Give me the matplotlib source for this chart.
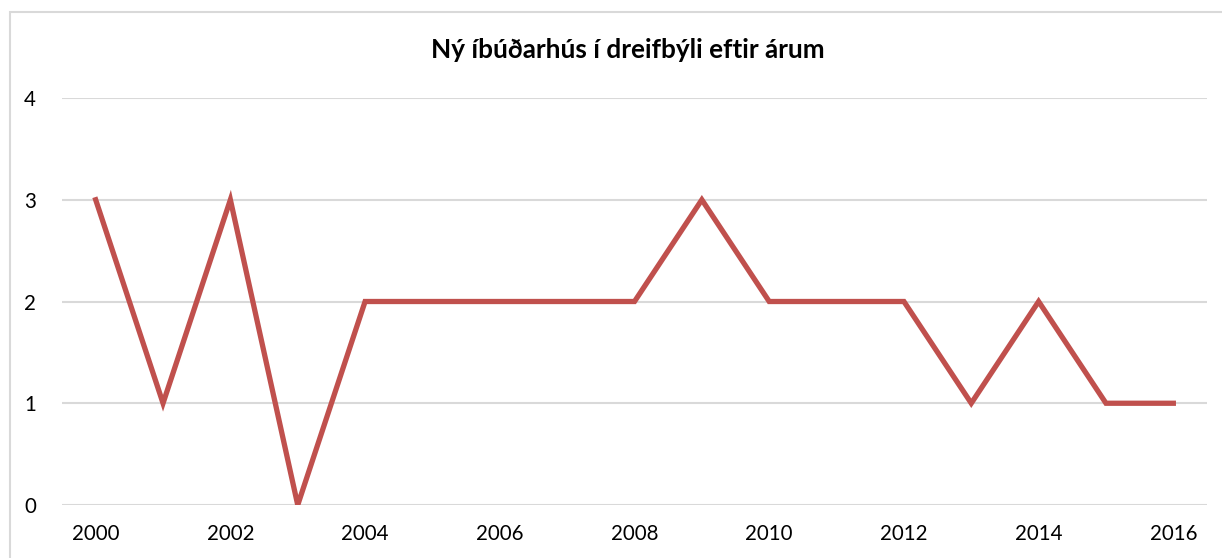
import matplotlib
matplotlib.use("Agg")
import matplotlib.pyplot as plt
from matplotlib.patches import Rectangle

years = list(range(2000, 2017))
values = [3, 1, 3, 0, 2, 2, 2, 2, 2, 3, 2, 2, 2, 1, 2, 1, 1]
xticks = list(range(2000, 2017, 2))
yticks = [0, 1, 2, 3, 4]
title = "Ný íbúðarhús í dreifbýli eftir árum"

plt.rcParams['font.family'] = ['Lato', 'DejaVu Sans']

W, H = 1222, 558
fig = plt.figure(figsize=(W / 100, H / 100), dpi=100)
fig.patch.set_facecolor('white')

# chart frame
fig.patches.append(Rectangle((10 / W, -0.1), 1.2, (H - 12) / H + 0.1,
                             transform=fig.transFigure, fill=False,
                             edgecolor='#d9d9d9', linewidth=1.5))

ax = fig.add_axes([62 / W, 1 - 505 / H, (1207 - 62) / W, (505 - 98) / H])
ax.plot(years, values, color='#c0504d', linewidth=3.8, solid_joinstyle='miter')
ax.set_xlim(1999.5, 2016.5)
ax.set_ylim(0, 4)
ax.set_yticks(yticks)
ax.set_xticks(xticks)
ax.set_xticklabels([str(t) for t in xticks])
ax.grid(axis='y', color='#d9d9d9', linewidth=1.5)
ax.set_axisbelow(True)
for s in ax.spines.values():
    s.set_visible(False)
ax.tick_params(axis='both', length=0, labelsize=14.8, colors='black')
ax.tick_params(axis='y', pad=23)
ax.tick_params(axis='x', pad=14)
for lbl in ax.get_yticklabels():
    lbl.set_horizontalalignment('center')

fig.text(628 / W, 1 - 50 / H, title, ha='center', va='center',
         fontsize=18.8, fontweight='bold')

fig.savefig('out.png', dpi=100)
